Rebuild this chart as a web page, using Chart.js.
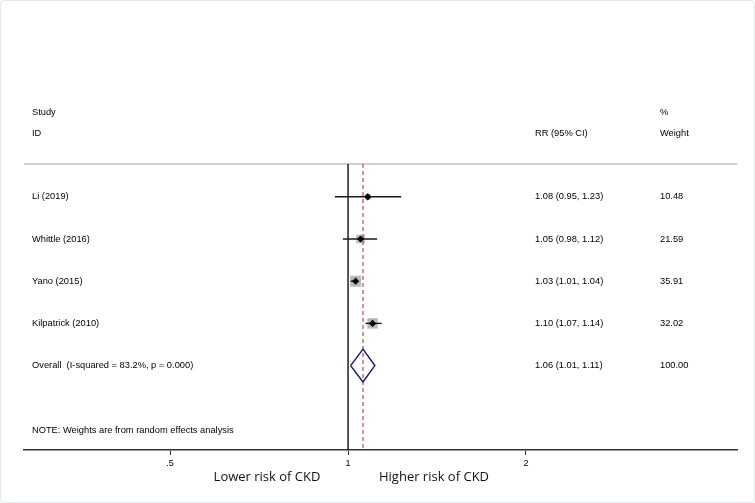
<!DOCTYPE html>
<html>
<head>
<meta charset="utf-8">
<script src="https://cdn.jsdelivr.net/npm/chart.js@4.4.1/dist/chart.umd.min.js"></script>
<style>
  html, body { margin: 0; padding: 0; background: #fff; }
  .frame {
    width: 753px;
    height: 501px;
    border: 1px solid #e2eaec;
    border-radius: 4px;
    position: relative;
  }
</style>
</head>
<body>
<div class="frame"><canvas id="forest"></canvas></div>
<script>
// study rows
const studies = ['Li (2019)', 'Whittle (2016)', 'Yano (2015)', 'Kilpatrick (2010)'];
const rr = [1.08, 1.05, 1.03, 1.10];
const ciLow = [0.95, 0.98, 1.01, 1.07];
const ciHigh = [1.23, 1.12, 1.04, 1.14];
const weights = [10.48, 21.59, 35.91, 32.02];

// pooled estimate
const overallLabel = 'Overall  (I-squared = 83.2%, p = 0.000)';
const overallRR = 1.06;
const overallLow = 1.01;
const overallHigh = 1.11;
const overallWeight = 100.00;

// x axis
const xTicks = [0.5, 1, 2];
const xTickLabels = ['.5', '1', '2'];

const TXT = '9.3px "Liberation Sans", Arial, sans-serif';
const rows = studies.map((_, i) => i + 1);
const overallRow = studies.length + 1;
const sepRow = 0.22;

// --- datasets, listed front to back (Chart.js paints index 0 last) ---
const datasets = [];

// overall diamond
const dh = 0.39;
datasets.push({
    data: [
        { x: overallLow, y: overallRow },
        { x: overallRR, y: overallRow - dh },
        { x: overallHigh, y: overallRow },
        { x: overallRR, y: overallRow + dh },
        { x: overallLow, y: overallRow }
    ],
    showLine: true, borderColor: '#1c1c6a', borderWidth: 1.5, pointRadius: 0, tension: 0
});
// point estimates
datasets.push({
    data: rr.map((v, i) => ({ x: v, y: rows[i] })),
    pointStyle: 'rectRot', pointRadius: 3.6,
    backgroundColor: '#000', borderWidth: 0
});
// confidence intervals
studies.forEach((s, i) => {
    datasets.push({
        data: [{ x: ciLow[i], y: rows[i] }, { x: ciHigh[i], y: rows[i] }],
        showLine: true, borderColor: '#1a1a1a', borderWidth: 1.4, pointRadius: 0
    });
});
// pooled estimate dashed line
datasets.push({
    data: [{ x: overallRR, y: sepRow }, { x: overallRR, y: 7 }],
    showLine: true, borderColor: '#b84a5c', borderWidth: 1.2, borderDash: [4, 3], pointRadius: 0
});
// weight boxes
datasets.push({
    data: rr.map((v, i) => ({ x: v, y: rows[i] })),
    pointStyle: 'rect',
    pointRadius: weights.map(w => Math.sqrt(w) * 1.3),
    backgroundColor: '#b9b9b9', borderWidth: 0
});
// reference line at RR = 1
datasets.push({
    data: [{ x: 1, y: sepRow }, { x: 1, y: 7 }],
    showLine: true, borderColor: '#111', borderWidth: 1.4, pointRadius: 0
});

// text columns and separator
const forestText = {
    id: 'forestText',
    beforeDatasetsDraw(chart) {
        const { ctx, chartArea } = chart;
        const y = chart.scales.y;
        ctx.save();
        ctx.strokeStyle = '#cfcfcf';
        ctx.lineWidth = 2;
        ctx.beginPath();
        ctx.moveTo(chartArea.left, y.getPixelForValue(sepRow));
        ctx.lineTo(chartArea.right, y.getPixelForValue(sepRow));
        ctx.stroke();
        ctx.restore();
    },
    afterDraw(chart) {
        const { ctx } = chart;
        const y = chart.scales.y;
        const colStudy = 31, colRR = 534, colW = 659;
        ctx.save();
        ctx.font = TXT;
        ctx.fillStyle = '#000';
        ctx.textBaseline = 'middle';
        ctx.textAlign = 'left';

        ctx.fillText('Study', colStudy, y.getPixelForValue(-1));
        ctx.fillText('ID', colStudy, y.getPixelForValue(-0.5));
        ctx.fillText('RR (95% CI)', colRR, y.getPixelForValue(-0.5));
        ctx.fillText('%', colW, y.getPixelForValue(-1));
        ctx.fillText('Weight', colW, y.getPixelForValue(-0.5));

        const fmt = (a, b, c) => `${a.toFixed(2)} (${b.toFixed(2)}, ${c.toFixed(2)})`;
        studies.forEach((s, i) => {
            const py = y.getPixelForValue(rows[i]);
            ctx.fillText(s, colStudy, py);
            ctx.fillText(fmt(rr[i], ciLow[i], ciHigh[i]), colRR, py);
            ctx.fillText(weights[i].toFixed(2), colW, py);
        });
        const oy = y.getPixelForValue(overallRow);
        ctx.fillText(overallLabel, colStudy, oy);
        ctx.fillText(fmt(overallRR, overallLow, overallHigh), colRR, oy);
        ctx.fillText(overallWeight.toFixed(2), colW, oy);

        ctx.fillText('NOTE: Weights are from random effects analysis', colStudy, y.getPixelForValue(6.53));

        // direction captions under the axis
        ctx.font = '13px "Open Sans", sans-serif';
        ctx.fillStyle = '#111';
        ctx.textAlign = 'center';
        ctx.fillText('Lower risk of CKD', 266, 476);
        ctx.fillText('Higher risk of CKD', 433, 476);
        ctx.restore();
    }
};

new Chart(document.getElementById('forest'), {
    type: 'scatter',
    data: { datasets: datasets },
    options: {
        responsive: true,
        maintainAspectRatio: false,
        animation: false,
        layout: { padding: { left: 23, right: 17, top: 27, bottom: 32 } },
        plugins: { legend: { display: false }, tooltip: { enabled: false } },
        scales: {
            x: {
                type: 'logarithmic',
                min: 0.283,
                max: 4.55,
                afterBuildTicks: scale => { scale.ticks = xTicks.map(v => ({ value: v })); },
                afterFit: scale => { scale.height = 20; },
                ticks: {
                    autoSkip: false,
                    maxRotation: 0,
                    padding: 3,
                    color: '#000',
                    font: { family: '"Liberation Sans", Arial, sans-serif', size: 9 },
                    callback: v => xTickLabels[xTicks.indexOf(v)]
                },
                grid: { drawOnChartArea: false, drawTicks: true, tickLength: 5, color: '#333', lineWidth: 1 },
                border: { display: true, color: '#333', width: 1.6 }
            },
            y: {
                display: false,
                reverse: true,
                min: -3,
                max: 7
            }
        }
    },
    plugins: [forestText]
});
</script>
</body>
</html>
